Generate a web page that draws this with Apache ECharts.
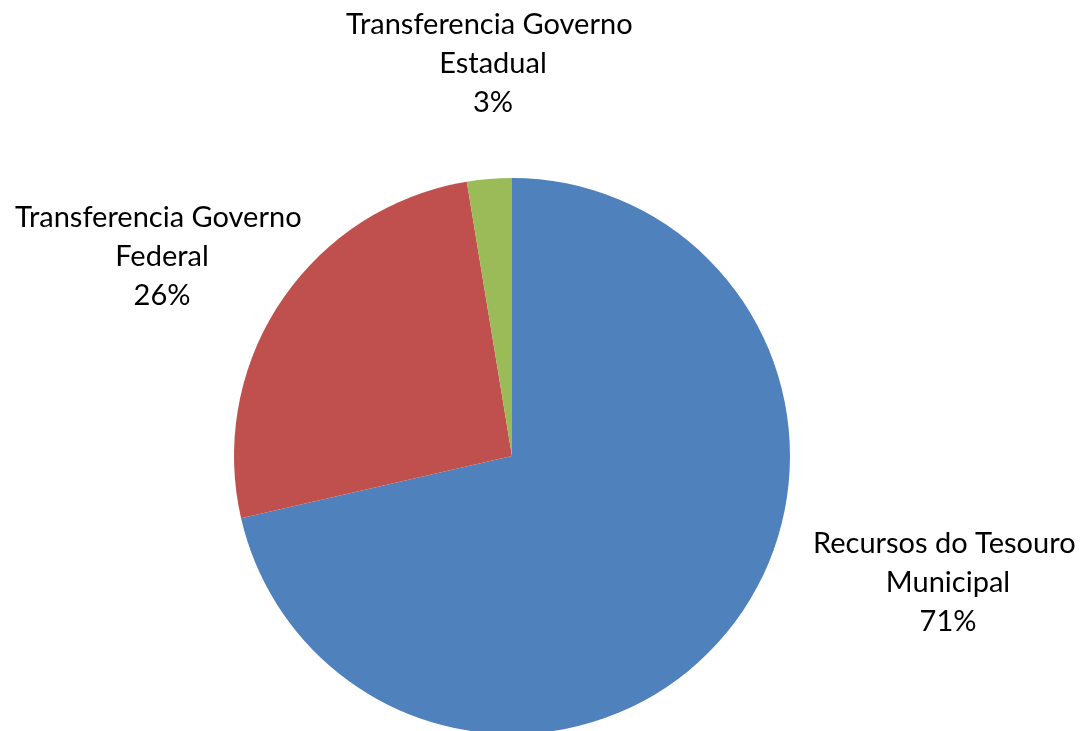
<!DOCTYPE html>
<html><head><meta charset="utf-8">
<script src="https://cdn.jsdelivr.net/npm/echarts@6/dist/echarts.min.js"></script>
<style>html,body{margin:0;padding:0;background:#fff}#c{width:1091px;height:731px}</style>
</head><body><div id="c"></div>
<script>
const categories = ["Recursos do Tesouro Municipal", "Transferencia Governo Federal", "Transferencia Governo Estadual"];
const values = [71.4, 26.0, 2.6];
const colors = ["#4F81BD", "#C0504D", "#9BBB59"];
const labelPos = [[948, 583], [162, 257], [493, 64]];

const chart = echarts.init(document.getElementById('c'));
chart.setOption({
  animation: false,
  series: [{
    type: 'pie',
    center: [512, 456],
    radius: 278,
    startAngle: 90,
    clockwise: true,
    data: categories.map((n, i) => ({name: n, value: values[i], itemStyle: {color: colors[i]}})),
    label: {
      show: true,
      position: 'outside',
      formatter: p => p.name + '\n' + Math.round(p.percent) + '%',
      fontFamily: 'Lato',
      fontSize: 29,
      lineHeight: 39,
      color: '#000',
      width: 320,
      overflow: 'break',
      align: 'center'
    },
    labelLine: {show: false},
    labelLayout: p => ({x: labelPos[p.dataIndex][0], y: labelPos[p.dataIndex][1], align: 'center', verticalAlign: 'middle'})
  }]
});
</script></body></html>
